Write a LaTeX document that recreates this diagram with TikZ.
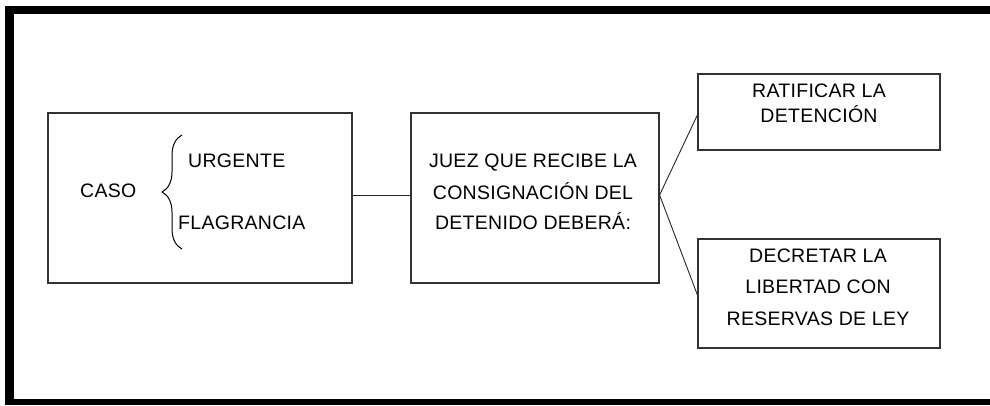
\documentclass[tikz,border=0pt]{standalone}
\usepackage{fontspec}
\setmainfont{Liberation Sans}[LetterSpace=1.5]
\usetikzlibrary{decorations.pathreplacing}
\tikzset{
  box/.style={draw=black!80, line width=1.2pt, minimum width=#1, inner sep=0pt},
  txt/.style={anchor=base, inner sep=0pt, font=\fontsize{19.5}{24}\selectfont},
  link/.style={draw=black!85, line width=0.9pt},
  framebar/.style={fill=black}
}
\begin{document}
\begin{tikzpicture}[x=1pt,y=-1pt]
\useasboundingbox (0,0) rectangle (990,405);
% frame
\fill[framebar] (5,5.5) rectangle (990,13.5);
\fill[framebar] (5,5.5) rectangle (13.5,405);
\fill[framebar] (5,399) rectangle (990,405);
% boxes
\node[box=304pt, minimum height=170pt] (b1) at (200,198) {};
\node[box=248pt, minimum height=170pt] (b2) at (535,198) {};
\node[box=242pt, minimum height=76pt] (b3) at (819,112) {};
\node[box=242pt, minimum height=109pt] (b4) at (819,293.5) {};
% box 1 text
\node[txt, anchor=base west] (caso) at (80,197) {CASO};
\node[txt, anchor=base west] (urg) at (188,167) {URGENTE};
\node[txt, anchor=base west] (flag) at (178,229) {FLAGRANCIA};
\coordinate (brb) at (182,249);
\coordinate (brt) at (182,135);
\draw[line width=1pt, decorate, decoration={brace, amplitude=20pt}] (brb) -- (brt);
% box 2 text
\node[txt] (j1) at (533,167) {JUEZ QUE RECIBE LA};
\node[txt] (j2) at (533,199) {CONSIGNACIÓN DEL};
\node[txt] (j3) at (533,229) {DETENIDO DEBERÁ:};
% box 3 text
\node[txt] (r1) at (819,97) {RATIFICAR LA};
\node[txt] (r2) at (819,122) {DETENCIÓN};
% box 4 text
\node[txt] (d1) at (818,262) {DECRETAR LA};
\node[txt] (d2) at (818,293) {LIBERTAD CON};
\node[txt] (d3) at (818,325) {RESERVAS DE LEY};
% connectors
\draw[link] ([yshift=3pt]b1.east) -- ([yshift=3pt]b2.west);
\draw[link] ([yshift=3pt]b2.east) -- ([yshift=-3pt]b3.west);
\draw[link] ([yshift=3pt]b2.east) -- ([yshift=-1.5pt]b4.west);
\end{tikzpicture}
\end{document}
